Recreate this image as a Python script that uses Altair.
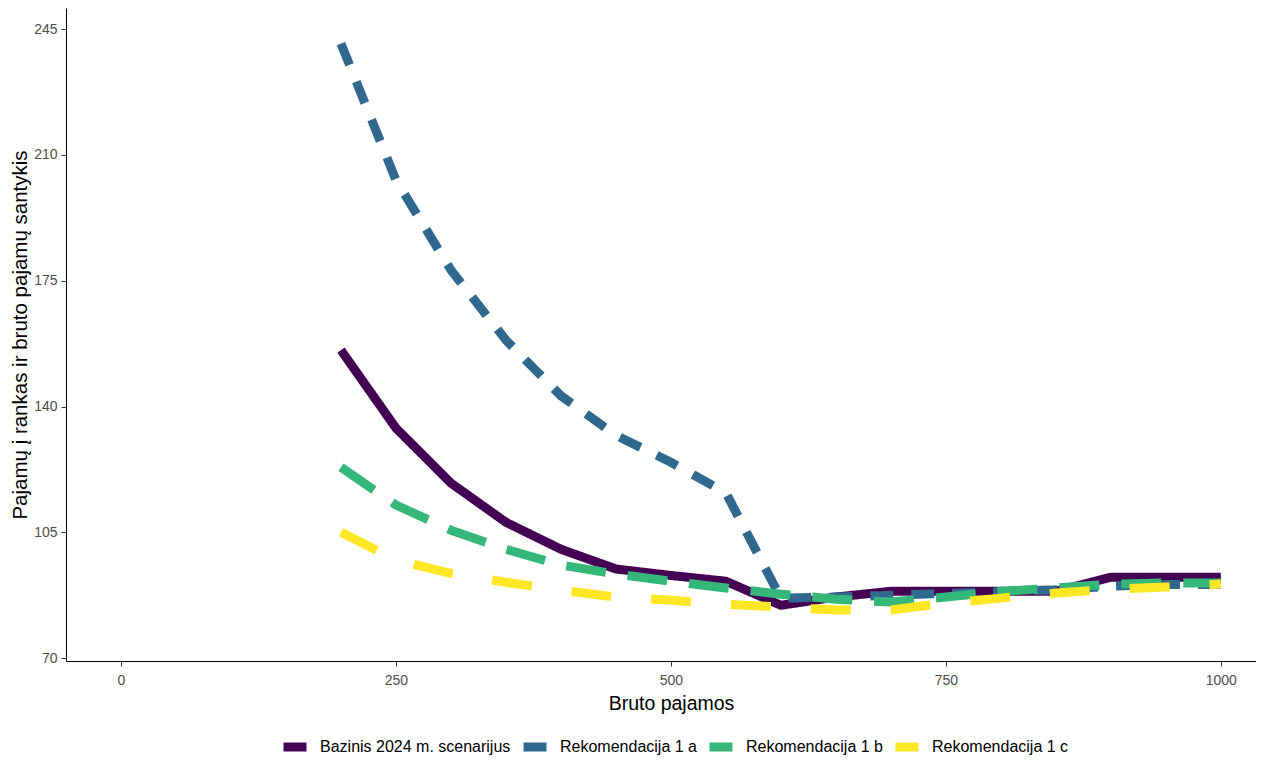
import altair as alt
import pandas as pd

x_vals = [200, 250, 300, 350, 400, 450, 500, 550, 600, 650, 700, 750, 800, 850, 900, 950, 1000]
bazinis = [155.7, 134.0, 118.7, 107.8, 100.3, 94.8, 93.0, 91.4, 84.7, 87.0, 88.6, 88.6, 88.6, 88.6, 92.5, 92.5, 92.5]
rek_1a = [241.0, 203.0, 178.0, 158.5, 143.0, 132.0, 124.5, 116.0, 86.7, 87.0, 87.5, 88.0, 88.5, 89.0, 90.0, 90.5, 90.5]
rek_1b = [123.1, 112.6, 105.6, 100.3, 95.9, 93.4, 91.4, 89.5, 87.8, 86.4, 85.6, 87.0, 88.6, 89.5, 90.6, 90.9, 90.9]
rek_1c = [105.0, 97.3, 93.6, 91.1, 88.9, 87.0, 86.1, 85.0, 84.2, 83.4, 83.4, 85.3, 86.7, 88.1, 89.2, 89.8, 90.6]

series_names = ["Bazinis 2024 m. scenarijus", "Rekomendacija 1 a", "Rekomendacija 1 b", "Rekomendacija 1 c"]
series_values = [bazinis, rek_1a, rek_1b, rek_1c]
colors = ["#440154", "#31688E", "#35B779", "#FDE725"]
dashes = [[1, 0], [23, 18], [40, 22], [40, 40]]

rows = []
for name, vals in zip(series_names, series_values):
    for i, (x, y) in enumerate(zip(x_vals, vals)):
        rows.append({"x": x, "y": y, "serija": name, "order": i})
df = pd.DataFrame(rows)

FONT = "Liberation Sans"

x_enc = alt.X("x:Q", title="Bruto pajamos",
              scale=alt.Scale(domain=[-50, 1032], nice=False, zero=False),
              axis=alt.Axis(values=[0, 250, 500, 750, 1000], format="d", labelPadding=7,
                            titlePadding=7, titleX=605))
y_enc = alt.Y("y:Q", title="Pajamų į rankas ir bruto pajamų santykis",
              scale=alt.Scale(domain=[69.2, 250.9], nice=False, zero=False),
              axis=alt.Axis(values=[70, 105, 140, 175, 210, 245], labelPadding=4,
                            titlePadding=3, titleFontSize=20.5))
color_scale = alt.Scale(domain=series_names, range=colors)

layers = []
for k, (name, dash) in enumerate(zip(series_names, dashes)):
    if k == 0:
        legend = alt.Legend(orient="none", direction="horizontal",
                            legendX=213, legendY=723,
                            symbolType="M-1,0H1", symbolSize=529,
                            symbolStrokeWidth=9,
                            labelFontSize=16, labelLimit=400,
                            labelFont=FONT, labelColor="#000000",
                            labelOffset=9, columnPadding=-6)
    else:
        legend = None
    layers.append(
        alt.Chart(df).transform_filter(alt.datum.serija == name)
        .mark_line(strokeWidth=9, strokeJoin="round", strokeCap="butt", strokeDash=dash)
        .encode(x=x_enc, y=y_enc,
                color=alt.Color("serija:N", title=None, scale=color_scale, legend=legend),
                order="order:Q")
    )

chart = alt.layer(*layers).properties(
    width=1190,
    height=653,
    autosize=alt.AutoSizeParams(type="none"),
    padding={"left": 58, "top": 0, "right": 0, "bottom": 97},
).configure_view(
    stroke=None
).configure_axis(
    grid=False,
    domainColor="#000000",
    domainWidth=1,
    tickColor="#333333",
    tickSize=5,
    labelColor="#4D4D4D",
    labelFontSize=14,
    labelFont=FONT,
    titleFont=FONT,
    titleFontSize=19.5,
    titleFontWeight="normal",
    titleColor="#000000",
)

chart.save("out.html", embed_options={"renderer": "svg", "actions": False})
